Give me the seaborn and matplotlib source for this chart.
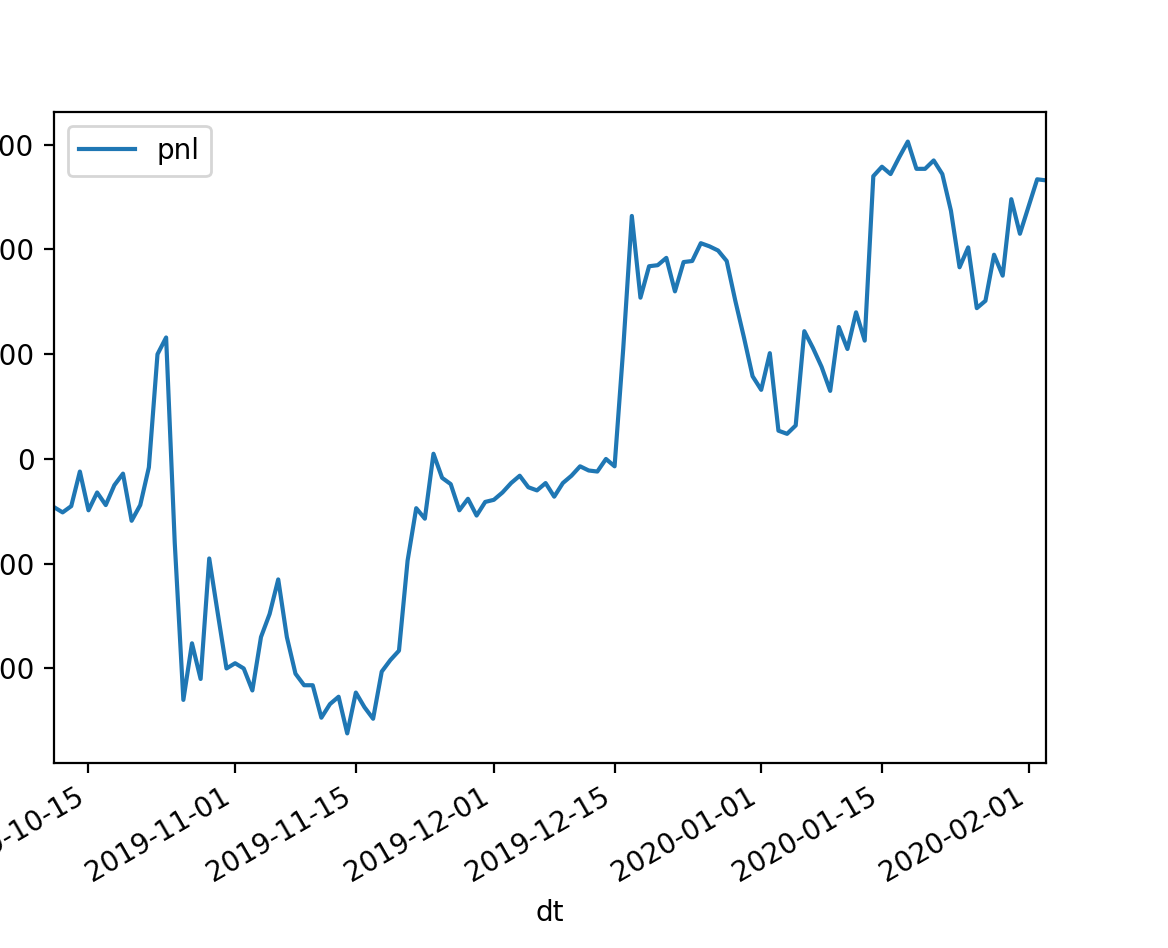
import pandas as pd
import matplotlib
matplotlib.use("Agg")
from matplotlib import pyplot as plt
import matplotlib.dates as mdates
import seaborn as sns

# daily pnl, 2019-10-11 .. 2020-02-03
start_date = "2019-10-11"
pnl = [
    -46, -51, -45, -12, -49, -32, -44, -25, -14, -59,
    -44, -8, 100, 116, -80, -230, -176, -210, -95, -148,
    -200, -195, -200, -221, -170, -148, -115, -170, -205, -216,
    -216, -247, -234, -227, -262, -223, -237, -248, -203, -192,
    -183, -97, -47, -57, 5, -18, -24, -49, -38, -54,
    -41, -39, -32, -23, -16, -27, -30, -23, -36, -23,
    -16, -7, -11, -12, 0, -7, 105, 232, 154, 184,
    185, 192, 160, 188, 189, 206, 203, 199, 189, 151,
    116, 79, 66, 101, 27, 24, 32, 122, 106, 88,
    65, 126, 105, 140, 113, 270, 279, 272, 288, 303,
    277, 277, 285, 272, 237, 183, 202, 144, 151, 195,
    175, 248, 215, 241, 267, 266,
]
dt = pd.date_range(start_date, periods=len(pnl), freq="D")

df = pd.DataFrame({"dt": dt, "pnl": pnl})

fig = plt.figure(figsize=(5.84, 4.74), dpi=200)
ax = fig.add_axes([54 / 1168, 1 - 763 / 948, (1045.8 - 54) / 1168, (763 - 112) / 948])

sns.lineplot(data=df, x="dt", y="pnl", ax=ax, label="pnl", color="#1f77b4", linewidth=1.5)

ax.set_xlim(df["dt"].iloc[0], df["dt"].iloc[-1])
ax.xaxis.set_major_locator(mdates.DayLocator(bymonthday=[1, 15]))
ax.xaxis.set_major_formatter(mdates.DateFormatter("%Y-%m-%d"))
ax.xaxis.set_minor_locator(plt.NullLocator())
plt.setp(ax.get_xticklabels(), rotation=30, ha="right")
ax.set_xlabel("dt")
ax.set_ylabel("")
ax.legend(loc="upper left")

fig.savefig("out.png", dpi=200)
